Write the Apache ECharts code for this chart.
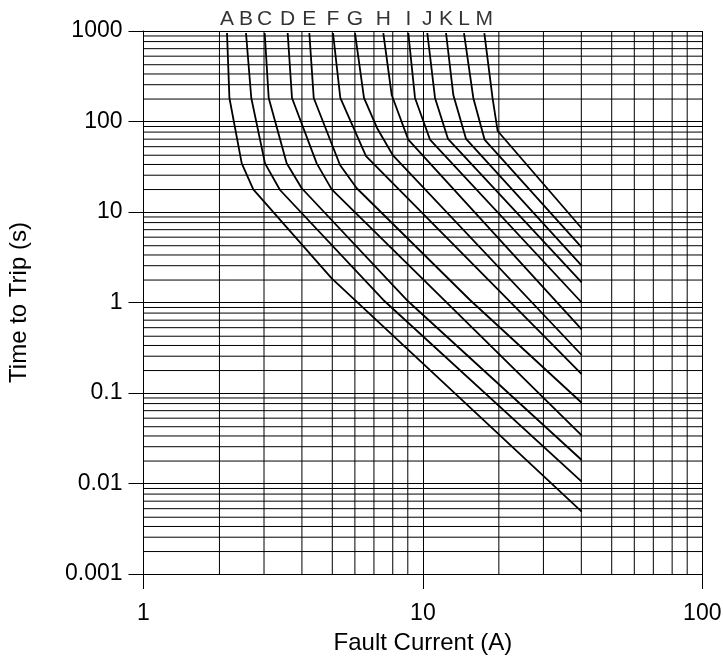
<!DOCTYPE html>
<html>
<head>
<meta charset="utf-8">
<script src="https://cdn.jsdelivr.net/npm/echarts@6/dist/echarts.min.js"></script>
<style>
  html, body { margin: 0; padding: 0; background: #fff; }
  #chart { width: 723px; height: 667px; }
</style>
</head>
<body>
<div id="chart"></div>
<script>
// ---- data ----
const xRange = [1, 100];
const yRange = [0.001, 1000];
const xDecades = [1, 10];
const yDecades = [0.001, 0.01, 0.1, 1, 10, 100];
const xMinorSteps = [1.87, 2.70, 3.69, 4.74, 5.71, 6.68, 7.80, 8.83];
const yMinorSteps = [1.77, 2.55, 3.35, 4.24, 5.27, 6.38, 7.64, 8.81];
const yTickLabels = ['0.001', '0.01', '0.1', '1', '10', '100', '1000'];
const xTickLabels = ['1', '10', '100'];

const curveNames = ['A','B','C','D','E','F','G','H','I','J','K','L','M'];
const curveA = [[1.99,950],[2.03,182],[2.247,34.5],[2.471,17.8],[4.716,1.85],[37,0.00489]];
const curveB = [[2.327,950],[2.431,182],[2.722,34.5],[3.080,17.5],[7.216,1.066],[37,0.0105]];
const curveC = [[2.715,950],[2.806,182],[3.254,34.5],[3.684,18.3],[8.75,1.066],[37,0.0182]];
const curveD = [[3.281,950],[3.400,182],[4.168,34.5],[4.716,17.8],[37,0.0341]];
const curveE = [[3.922,950],[4.067,182],[5.050,33.1],[5.798,18.3],[14.74,1.066],[37,0.0781]];
const curveF = [[4.767,950],[5.063,182],[6.257,41.5],[37,0.162]];
const curveG = [[5.715,950],[6.154,182],[6.851,84.8],[7.798,42.6],[37,0.263]];
const curveH = [[7.216,950],[7.734,196],[8.866,62.9],[37,0.506]];
const curveI = [[8.866,950],[9.370,182],[10.60,63.2],[37,1.0]];
const curveJ = [[10.37,950],[11.05,182],[12.30,64.1],[37,1.67]];
const curveK = [[12.10,950],[12.85,196],[14.27,64.1],[37,2.55]];
const curveL = [[14.03,950],[15.15,182],[16.62,63.2],[37,4.07]];
const curveM = [[16.59,950],[17.75,182],[18.52,78.5],[37,6.61]];
const curves = [curveA,curveB,curveC,curveD,curveE,curveF,curveG,curveH,curveI,curveJ,curveK,curveL,curveM];

// ---- build ----
const FONT = "'Liberation Sans', Arial, sans-serif";
const fmt = v => String(+(+v).toPrecision(6));

const minorXVals = [];
xDecades.forEach(d => xMinorSteps.forEach(m => minorXVals.push(+(d * m).toPrecision(6))));
const minorYVals = [];
yDecades.forEach(d => yMinorSteps.forEach(m => minorYVals.push(+(d * m).toPrecision(6))));

const gridLineStyle = { color: '#000', width: 1 };
const series = [];
minorXVals.forEach(v => series.push({
  type: 'line', data: [[v, yRange[0]], [v, yRange[1]]],
  symbol: 'none', silent: true, z: 1, lineStyle: gridLineStyle
}));
minorYVals.forEach(v => series.push({
  type: 'line', data: [[xRange[0], v], [xRange[1], v]],
  symbol: 'none', silent: true, z: 1, lineStyle: gridLineStyle
}));

curves.forEach((c, i) => series.push({
  name: curveNames[i],
  type: 'line',
  data: c,
  symbol: 'none',
  lineStyle: { color: '#000', width: 1.8 },
  z: 5,
  silent: true
}));

series.push({
  name: 'labels',
  type: 'scatter',
  data: curves.map((c, i) => ({ value: c[0], name: curveNames[i] })),
  symbol: 'circle',
  symbolSize: 1,
  itemStyle: { color: 'rgba(0,0,0,0)' },
  z: 6,
  silent: true,
  label: {
    show: true,
    position: 'top',
    distance: 3,
    formatter: p => p.name,
    color: '#000',
    fontSize: 21,
    fontFamily: FONT
  }
});

const axisCommon = {
  type: 'log',
  logBase: 10,
  axisLine: { show: true, lineStyle: { color: '#000', width: 1 } },
  axisTick: { show: true, inside: false, length: 15, lineStyle: { color: '#000', width: 1 } },
  splitLine: { show: true, lineStyle: { color: '#000', width: 1 } },
  minorTick: { show: false },
  minorSplitLine: { show: false },
  nameLocation: 'middle',
  nameTextStyle: { color: '#000', fontSize: 24, fontFamily: FONT }
};

const option = {
  animation: false,
  backgroundColor: '#fff',
  grid: { left: 143.5, right: 20.7, top: 31, bottom: 93, containLabel: false, outerBoundsMode: 'none' },
  xAxis: Object.assign({}, axisCommon, {
    min: xRange[0], max: xRange[1], splitNumber: 2,
    name: 'Fault Current (A)',
    nameGap: 57,
    axisLabel: {
      color: '#000', fontSize: 23, fontFamily: FONT, margin: 28,
      formatter: v => { const s = fmt(v); return xTickLabels.includes(s) ? s : ''; }
    }
  }),
  yAxis: Object.assign({}, axisCommon, {
    min: yRange[0], max: yRange[1], splitNumber: 6,
    name: 'Time to Trip (s)',
    nameGap: 112,
    axisLabel: {
      color: '#000', fontSize: 23, fontFamily: FONT, margin: 21,
      padding: [4, 0, 0, 0],
      formatter: v => { const s = fmt(v); return yTickLabels.includes(s) ? s : ''; }
    }
  }),
  series: series
};

const chart = echarts.init(document.getElementById('chart'), null, { renderer: 'canvas' });
chart.setOption(option);
</script>
</body>
</html>
